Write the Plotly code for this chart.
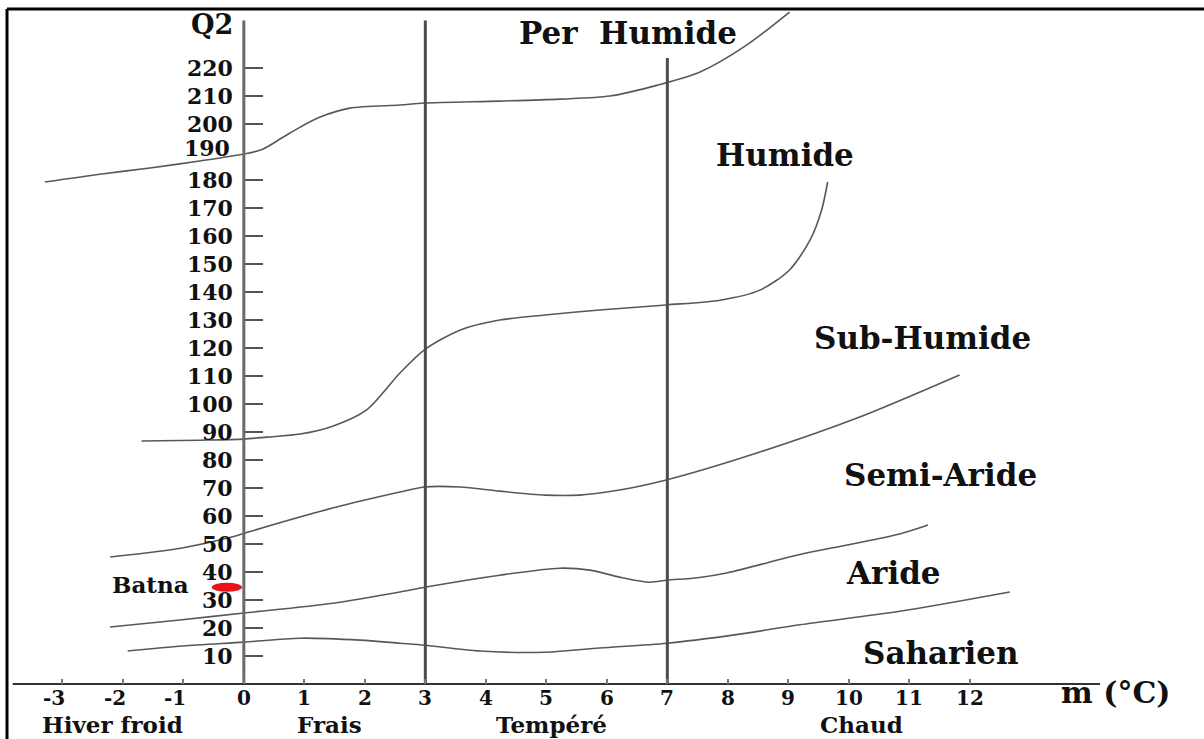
import plotly.graph_objects as go

# ---------------- data ----------------
x_ticks = [-3, -2, -1, 0, 1, 2, 3, 4, 5, 6, 7, 8, 9, 10, 11, 12]
x_ticklabels = ["-3", "-2", "-1", "0", "1", "2", "3", "4", "5", "6", "7", "8", "9", "10", "11", "12"]
y_ticks = [10, 20, 30, 40, 50, 60, 70, 80, 90, 100, 110, 120, 130, 140, 150, 160, 170, 180, 200, 210, 220]
y_ticklabels = [str(v) for v in y_ticks]

# Per-Humide / Humide limit
c1_m = [-3.29, -2.38, -1.55, -0.73, 0.0, 0.31, 0.64, 0.93, 1.26, 1.75, 2.58, 2.98, 4.23, 5.22, 6.05, 6.84, 7.54, 8.31, 9.02]
c1_q = [179.3, 182.1, 184.3, 186.8, 189.3, 191.0, 195.2, 198.9, 202.5, 205.7, 206.8, 207.5, 208.2, 208.9, 210.0, 213.9, 218.6, 228.2, 240.0]
# Humide / Sub-Humide limit
c2_m = [-1.69, -0.73, 0.0, 0.38, 0.93, 1.47, 2.03, 2.58, 2.98, 3.57, 4.23, 4.98, 5.88, 6.98, 7.87, 8.53, 9.02, 9.36, 9.55, 9.65]
c2_q = [86.8, 87.1, 87.5, 88.2, 89.3, 92.1, 97.9, 111.1, 119.3, 126.4, 130.0, 131.8, 133.6, 135.4, 137.1, 140.7, 147.9, 158.6, 169.3, 179.3]
# Sub-Humide / Semi-Aride limit
c3_m = [-2.21, -1.02, -0.2, 0.07, 1.47, 2.58, 2.98, 3.57, 4.23, 4.98, 5.55, 6.21, 6.98, 8.53, 10.18, 11.83]
c3_q = [45.4, 48.6, 52.5, 54.3, 62.9, 68.6, 70.4, 70.4, 68.9, 67.5, 67.5, 69.3, 72.9, 82.9, 95.4, 110.4]
# Semi-Aride / Aride limit
c4_m = [-2.21, -1.06, 0.0, 1.47, 2.58, 2.99, 4.23, 5.22, 5.72, 6.21, 6.71, 6.99, 7.5, 8.0, 9.19, 10.0, 10.84, 11.31]
c4_q = [20.4, 22.9, 25.4, 28.9, 32.9, 34.6, 38.9, 41.4, 40.7, 38.2, 36.4, 37.1, 38.0, 39.8, 46.3, 49.8, 53.6, 56.8]
# Aride / Saharien limit
c5_m = [-1.92, -1.01, 0.0, 0.93, 1.92, 2.58, 2.99, 3.9, 4.98, 5.88, 6.99, 8.08, 9.19, 10.84, 12.66]
c5_q = [11.8, 13.6, 15.0, 16.4, 15.7, 14.6, 13.9, 11.8, 11.4, 12.9, 14.6, 17.5, 21.2, 26.0, 32.9]

# winter boundaries (m = 3 and m = 7) and their top Q2
vline_m = [3, 7]
vline_top = [237, 223.6]

# station
batna_m = -0.28
batna_q = 34.6

# ---------------- layout constants ----------------
W, H = 1204, 739
XR = [-4.03, 15.87]
YR = [-19.6, 244.3]
FONT = "DejaVu Serif"
TXT = "#111111"
CURVE = "#585858"

fig = go.Figure()

for m, q in [(c1_m, c1_q), (c2_m, c2_q), (c3_m, c3_q), (c4_m, c4_q), (c5_m, c5_q)]:
    fig.add_trace(go.Scatter(x=m, y=q, mode="lines",
                             line=dict(color=CURVE, width=1.6, shape="spline", smoothing=0.8),
                             hoverinfo="skip", showlegend=False))

for xm, top in zip(vline_m, vline_top):
    fig.add_trace(go.Scatter(x=[xm, xm], y=[0, top], mode="lines",
                             line=dict(color="#4d4d4d", width=3),
                             hoverinfo="skip", showlegend=False))

# Q2 axis line (m = 0) and m axis line (Q2 = 0)
fig.add_trace(go.Scatter(x=[0, 0], y=[0, 237], mode="lines",
                         line=dict(color="#6a6a6a", width=3), hoverinfo="skip", showlegend=False))
fig.add_trace(go.Scatter(x=[-3.82, 14.15], y=[0, 0], mode="lines",
                         line=dict(color="#333333", width=2), hoverinfo="skip", showlegend=False))

# Batna ellipse
fig.add_shape(type="circle", xref="x", yref="y",
              x0=batna_m - 0.25, x1=batna_m + 0.25, y0=batna_q - 1.6, y1=batna_q + 1.6,
              fillcolor="#e8141b", line=dict(color="#e8141b", width=0))

# frame (top and left)
fig.add_shape(type="line", xref="paper", yref="paper", x0=7 / W, x1=1, y0=1 - 9 / H, y1=1 - 9 / H,
              line=dict(color="black", width=3))
fig.add_shape(type="line", xref="paper", yref="paper", x0=7 / W, x1=7 / W, y0=0, y1=1 - 9 / H,
              line=dict(color="black", width=3))

def ann(text, x, y, size, xanchor="center", yanchor="middle", xshift=0, yshift=0):
    fig.add_annotation(x=x, y=y, xref="x", yref="y", text=text, showarrow=False,
                       xanchor=xanchor, yanchor=yanchor, xshift=xshift, yshift=yshift,
                       borderpad=0,
                       font=dict(family=FONT, size=size, color=TXT, weight="bold"))

# tick labels (on the scales)
TICK_SIZE = 22
for v, t in zip(y_ticks, y_ticklabels):
    ann(t, -0.17, v, TICK_SIZE, xanchor="right")
ann("190", -0.21, 191.6, TICK_SIZE, xanchor="right")
for v, t in zip(x_ticks, x_ticklabels):
    ann(t, v, -5.0, 20, xshift=-8 if t.startswith("-") else 0)

# region / class labels
ann("Per  Humide", 6.35, 232.5, 31)
ann("Humide", 8.94, 188.9, 31)
ann("Sub-Humide", 11.21, 123.6, 31)
ann("Semi-Aride", 11.52, 74.6, 31)
ann("Aride", 10.73, 39.6, 31)
ann("Saharien", 11.52, 11.1, 31)
ann("m (°C)", 14.4, -2.9, 30)
for txt, xm in [("Hiver froid", -2.17), ("Frais", 1.42), ("Tempéré", 5.09), ("Chaud", 10.21)]:
    ann(txt, xm, YR[0], 23, yanchor="bottom")
ann("Q2", -0.53, 235.7, 27)
ann("Batna", -1.55, 35.7, 23)

xpos = (0 - XR[0]) / (XR[1] - XR[0])
ypos = (0 - YR[0]) / (YR[1] - YR[0])

fig.update_layout(
    width=W, height=H, autosize=False,
    margin=dict(l=0, r=0, t=0, b=0, pad=0),
    paper_bgcolor="white", plot_bgcolor="white",
    showlegend=False,
    xaxis=dict(range=XR, anchor="free", position=ypos, showgrid=False, zeroline=False,
               showline=False, tickmode="array", tickvals=x_ticks, showticklabels=False,
               ticks="inside", ticklen=5, tickwidth=2, tickcolor="#777777", fixedrange=True),
    yaxis=dict(range=YR, anchor="free", position=xpos, showgrid=False, zeroline=False,
               showline=False, tickmode="array", tickvals=y_ticks, showticklabels=False,
               ticks="inside", ticklen=18, tickwidth=1.5, tickcolor="#555555", fixedrange=True),
)

fig.write_html("out.html")
